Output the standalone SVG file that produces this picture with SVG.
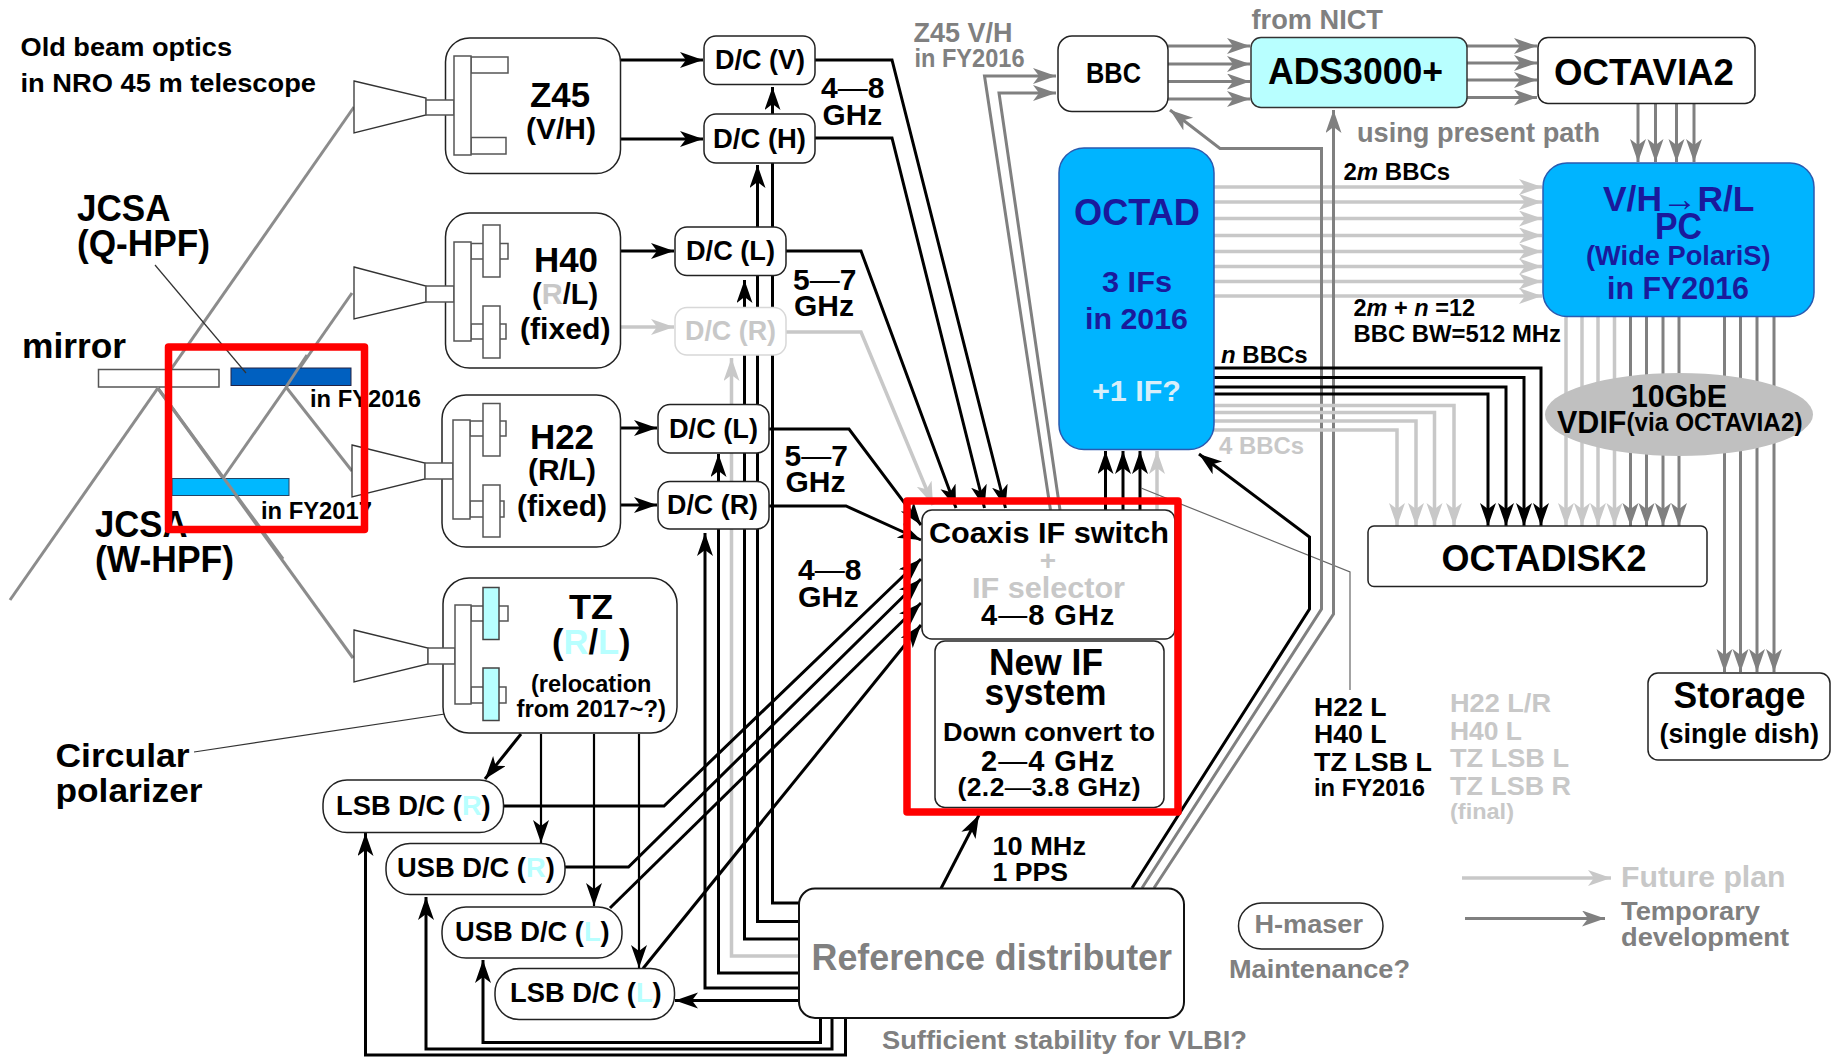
<svg xmlns="http://www.w3.org/2000/svg" width="1831" height="1057" viewBox="0 0 1831 1057">
<style>
text{font-family:"Liberation Sans",Arial,sans-serif;font-weight:700;fill:#000}
.c{text-anchor:middle}
.gy{fill:#808080}
.lt{fill:#c8c8c8}
.nv{fill:#1a1a9c}
.n{font-weight:400}
.i{font-style:italic}
.cy{fill:#b8ffff}
.box{fill:#fff;stroke:#222;stroke-width:1.5}
.part{fill:#fff;stroke:#555;stroke-width:1.5}
.cp{fill:#b8ffff;stroke:#444;stroke-width:1.5}
path{fill:none}
.k{stroke:#000;stroke-width:3;marker-end:url(#ak)}
.k0{stroke:#000;stroke-width:3}
.t{stroke:#000;stroke-width:2.2;marker-end:url(#ak)}
.g{stroke:#808080;stroke-width:3;marker-end:url(#ag)}
.g0{stroke:#808080;stroke-width:3}
.y{stroke:#c8c8c8;stroke-width:3.5;marker-end:url(#ay)}
.thin{stroke:#333;stroke-width:1.2}
.beam{stroke:#8c8c8c;stroke-width:3}
.red{fill:none;stroke:#f00;stroke-width:7.5;stroke-linejoin:round}
</style>
<defs>
<marker id="ak" markerUnits="userSpaceOnUse" markerWidth="25" markerHeight="18" refX="23" refY="8" orient="auto"><path d="M0,0L23,8L0,16L6,8z" style="fill:#000;stroke:none"/></marker>
<marker id="ag" markerUnits="userSpaceOnUse" markerWidth="25" markerHeight="18" refX="23" refY="8" orient="auto"><path d="M0,0L23,8L0,16L6,8z" style="fill:#808080;stroke:none"/></marker>
<marker id="ay" markerUnits="userSpaceOnUse" markerWidth="25" markerHeight="18" refX="23" refY="8" orient="auto"><path d="M0,0L23,8L0,16L6,8z" style="fill:#c8c8c8;stroke:none"/></marker>
</defs>
<rect width="1831" height="1057" fill="#fff"/>

<g id="beam-optics">
<path class="beam" d="M10,600L354,107"/>
<path class="beam" d="M157,387L353,658"/>
<path class="beam" d="M352,293L223,478"/>
<path class="beam" d="M286,387L352,471"/>
<rect id="mirror" x="98.500" y="369.500" width="120.500" height="17.500" class="part"/>
<rect id="jcsa-q" x="231" y="368" width="120" height="17.500" fill="#0060c0" stroke="#224"/>
<rect id="jcsa-w" x="172" y="478.500" width="117" height="17" fill="#00b8ff" stroke="#246"/>
<path class="beam" d="M157,387L283,559"/>
<path class="beam" d="M307,355L286,387"/>
<path class="thin" d="M155,265L246,373"/>
<path class="thin" d="M194,752L491,707"/>
</g>

<g id="connectors">
<!-- receivers to D/C -->
<path class="k" d="M621,60H703"/>
<path class="k" d="M621,139H703"/>
<path class="k" d="M621,251H674"/>
<path class="y" d="M621,327H674"/>
<path class="k" d="M621,428H657"/>
<path class="k" d="M621,505H657"/>
<!-- D/C outputs -->
<path class="k" d="M815,60H892L1005.500,508"/>
<path class="k" d="M815,138H892L984.500,508"/>
<path class="k" d="M786,251H861L956,508"/>
<path class="y" d="M786,332H861L933,505"/>
<path class="k" d="M769,429H849L921,525"/>
<path class="k" d="M769,506H846L921,540"/>
<!-- reference distribution -->
<path class="k" d="M799,903H772.500V87"/>
<path class="k" d="M799,921.500H757.500V165"/>
<path class="k" d="M799,939H744.500V280"/>
<path class="y" d="M799,956H731.500V358"/>
<path class="k" d="M799,973H718.500V454"/>
<path class="k" d="M799,988H705V533"/>
<path class="k" d="M799,1000.500H675"/>
<path class="k" d="M845.500,1018V1055H365.500V833"/>
<path class="k" d="M832,1018V1049H426V897"/>
<path class="k" d="M820.500,1018V1042.500H483V960"/>
<!-- TZ -->
<path class="k" d="M521,734L485,779"/>
<path class="t" d="M541,734V843"/>
<path class="t" d="M594,734V906"/>
<path class="t" d="M639,734V968"/>
<!-- TZ D/C outputs -->
<path class="k" d="M503.500,806H664L921,559"/>
<path class="k" d="M565,867H628.500L921,579"/>
<path class="k" d="M610,908L921,603"/>
<path class="k" d="M643,968.500L921,625"/>
<!-- Z45 paths to BBC -->
<path class="g" d="M1050.500,510L984.500,76H1056"/>
<path class="g" d="M1060,510L999,93H1056"/>
<!-- switch to OCTAD -->
<path class="k" d="M1105.500,510V451"/>
<path class="k" d="M1123,510V451"/>
<path class="k" d="M1140,510V451"/>
<path class="y" d="M1157,510V451"/>
<path class="thin" d="M1141,488L1350,572V690" style="stroke:#666"/>
<!-- BBC to ADS to OCTAVIA -->
<path class="g" d="M1168,46H1250"/>
<path class="g" d="M1168,64H1250"/>
<path class="g" d="M1168,81.500H1250"/>
<path class="g" d="M1168,99H1250"/>
<path class="g" d="M1467,46H1537"/>
<path class="g" d="M1467,63H1537"/>
<path class="g" d="M1467,80H1537"/>
<path class="g" d="M1467,97.500H1537"/>
<path class="g" d="M1638,104V162"/>
<path class="g" d="M1655.500,104V162"/>
<path class="g" d="M1676.500,104V162"/>
<path class="g" d="M1694,104V162"/>
<!-- OCTAD to PC -->
<path class="y" d="M1214,187H1542"/>
<path class="y" d="M1214,202H1542"/>
<path class="y" d="M1214,218.500H1542"/>
<path class="y" d="M1214,235.500H1542"/>
<path class="y" d="M1214,251.500H1542"/>
<path class="y" d="M1214,266.500H1542"/>
<path class="y" d="M1214,281.500H1542"/>
<path class="y" d="M1214,296H1542"/>
<!-- reference uplinks -->
<path class="g" d="M1142,888L1321.500,609V148.500H1220L1170,110"/>
<path class="g" d="M1154,888L1333.500,614V110"/>
<path class="k" d="M1132,888L1309.500,609V537L1199,454"/>
<path class="k" d="M941,888.500L979,815"/>
<!-- OCTAD to OCTADISK -->
<path class="y" d="M1214,405.500H1454V526"/>
<path class="y" d="M1214,412.500H1434.500V526"/>
<path class="y" d="M1214,421H1416V526"/>
<path class="y" d="M1214,430H1397V526"/>
<path class="k" d="M1214,368H1541V526"/>
<path class="k" d="M1214,377.500H1524V526"/>
<path class="k" d="M1214,387H1506V526"/>
<path class="k" d="M1214,394H1488V526"/>
<!-- PC to OCTADISK / Storage -->
<path class="y" d="M1566,316V526"/>
<path class="y" d="M1582,316V526"/>
<path class="y" d="M1598,316V526"/>
<path class="y" d="M1614.500,316V526"/>
<path class="g" d="M1630.500,316V526"/>
<path class="g" d="M1646.500,316V526"/>
<path class="g" d="M1663,316V526"/>
<path class="g" d="M1679,316V526"/>
<path class="g" d="M1724.500,316V672"/>
<path class="g" d="M1740.500,316V672"/>
<path class="g" d="M1757,316V672"/>
<path class="g" d="M1774,316V672"/>
<!-- legend -->
<path class="y" d="M1462,878H1611"/>
<path class="g" d="M1465,918.500H1605"/>
</g>

<g id="Z45">
<rect class="box" x="445.500" y="38" width="175" height="135.500" rx="24"/>
<path d="M354,81L426,98V115L354,133Z" style="fill:#fff;stroke:#333;stroke-width:1.3"/>
<rect class="part" x="426" y="100" width="28" height="15"/>
<rect class="part" x="471" y="57" width="37" height="16"/>
<rect class="part" x="471" y="137.500" width="35" height="16.500"/>
<rect class="part" x="454" y="56" width="17" height="99"/>
<text x="530" y="107" font-size="35" textLength="60" lengthAdjust="spacingAndGlyphs">Z45</text>
<text x="526" y="139" font-size="29" textLength="70" lengthAdjust="spacingAndGlyphs">(V/H)</text>
</g>

<g id="H40">
<rect class="box" x="445.500" y="213" width="175" height="155" rx="24"/>
<path d="M354,267L426,286V302L354,319Z" style="fill:#fff;stroke:#333;stroke-width:1.3"/>
<rect class="part" x="426" y="286" width="28" height="16"/>
<rect class="part" x="471" y="243.500" width="37" height="15.500"/>
<rect class="part" x="471" y="324" width="35" height="15"/>
<rect class="part" x="454" y="242" width="17" height="99"/>
<rect class="part" x="483" y="225" width="17" height="52"/>
<rect class="part" x="483" y="306" width="17" height="52"/>
<text x="534" y="272" font-size="35" textLength="64" lengthAdjust="spacingAndGlyphs">H40</text>
<text x="532" y="303.500" font-size="29">(<tspan class="lt">R</tspan>/L)</text>
<text x="520" y="338.500" font-size="29" textLength="90.500" lengthAdjust="spacingAndGlyphs">(fixed)</text>
</g>

<g id="H22">
<rect class="box" x="442" y="395" width="178.500" height="152" rx="24"/>
<path d="M352,445L425,463V479L352,497Z" style="fill:#fff;stroke:#333;stroke-width:1.3"/>
<rect class="part" x="425" y="463" width="28" height="16"/>
<rect class="part" x="470" y="421" width="36" height="15"/>
<rect class="part" x="470" y="501" width="34" height="16"/>
<rect class="part" x="453" y="420" width="17" height="99"/>
<rect class="part" x="483" y="403.500" width="17" height="52.500"/>
<rect class="part" x="483" y="485" width="17" height="52"/>
<text x="530" y="449" font-size="35" textLength="64" lengthAdjust="spacingAndGlyphs">H22</text>
<text x="528" y="480" font-size="29" textLength="68" lengthAdjust="spacingAndGlyphs">(R/L)</text>
<text x="517" y="516" font-size="29" textLength="90" lengthAdjust="spacingAndGlyphs">(fixed)</text>
</g>

<g id="TZ">
<rect class="box" x="443" y="578" width="234" height="155" rx="26"/>
<path d="M354,630L428,648V664L354,682Z" style="fill:#fff;stroke:#333;stroke-width:1.3"/>
<rect class="part" x="428" y="648" width="27" height="16"/>
<rect class="part" x="471" y="606" width="37" height="15"/>
<rect class="part" x="471" y="687" width="35" height="16"/>
<rect class="part" x="455" y="605" width="16" height="99"/>
<rect class="cp" x="483" y="587.500" width="16" height="52"/>
<rect class="cp" x="483" y="668" width="16" height="52.500"/>
<text x="569" y="619" font-size="35" textLength="44" lengthAdjust="spacingAndGlyphs">TZ</text>
<text x="552" y="654" font-size="34.500">(<tspan class="cy">R</tspan>/<tspan class="cy">L</tspan>)</text>
<text x="531" y="692" font-size="23" textLength="120.500" lengthAdjust="spacingAndGlyphs">(relocation</text>
<text x="516.500" y="717" font-size="23" textLength="149.500" lengthAdjust="spacingAndGlyphs">from 2017~?)</text>
</g>

<g id="dc-v"><rect class="box" x="704" y="36" width="111" height="48.500" rx="12"/><text x="715" y="69" font-size="27" textLength="90" lengthAdjust="spacingAndGlyphs">D/C (V)</text></g>
<g id="dc-h"><rect class="box" x="704" y="114" width="111" height="49" rx="12"/><text x="713" y="148" font-size="27" textLength="93" lengthAdjust="spacingAndGlyphs">D/C (H)</text></g>
<g id="dc-l-h40"><rect class="box" x="675" y="227" width="111" height="48.500" rx="12"/><text x="686" y="260" font-size="27" textLength="89" lengthAdjust="spacingAndGlyphs">D/C (L)</text></g>
<g id="dc-r-h40"><rect x="675" y="307.500" width="111" height="47.500" rx="12" style="fill:#fff;stroke:#d8d8d8;stroke-width:1.5"/><text class="lt" x="685" y="340" font-size="27" textLength="91" lengthAdjust="spacingAndGlyphs">D/C (R)</text></g>
<g id="dc-l-h22"><rect class="box" x="658" y="404.500" width="111" height="48.500" rx="12"/><text x="669" y="438" font-size="27" textLength="89" lengthAdjust="spacingAndGlyphs">D/C (L)</text></g>
<g id="dc-r-h22"><rect class="box" x="658" y="481.500" width="111" height="47.500" rx="12"/><text x="667" y="514" font-size="27" textLength="91" lengthAdjust="spacingAndGlyphs">D/C (R)</text></g>

<g id="lsb-r"><rect class="box" x="323" y="780" width="180.500" height="52.500" rx="24"/><text x="336" y="815" font-size="27.300">LSB D/C (<tspan class="cy">R</tspan>)</text></g>
<g id="usb-r"><rect class="box" x="386" y="843.500" width="179" height="51" rx="24"/><text x="397" y="877" font-size="27.300">USB D/C (<tspan class="cy">R</tspan>)</text></g>
<g id="usb-l"><rect class="box" x="442" y="907" width="180" height="51" rx="24"/><text x="455" y="940.500" font-size="27.300">USB D/C (<tspan class="cy">L</tspan>)</text></g>
<g id="lsb-l"><rect class="box" x="495" y="968.500" width="179.500" height="51" rx="24"/><text x="510" y="1002" font-size="27.300">LSB D/C (<tspan class="cy">L</tspan>)</text></g>

<g id="coaxis">
<rect class="box" x="922" y="510" width="253" height="129" rx="10"/>
<text x="929" y="542.500" font-size="29" textLength="240" lengthAdjust="spacingAndGlyphs">Coaxis IF switch</text>
<text class="c lt" x="1048" y="570" font-size="28">+</text>
<text class="lt" x="972" y="598" font-size="29" textLength="153" lengthAdjust="spacingAndGlyphs">IF selector</text>
<text x="981" y="625" font-size="29" letter-spacing="1">4<tspan class="n">—</tspan>8 GHz</text>
</g>
<g id="new-if">
<rect class="box" x="935" y="641" width="229" height="166.500" rx="10"/>
<text x="989" y="675" font-size="36" textLength="114" lengthAdjust="spacingAndGlyphs">New IF</text>
<text x="984.500" y="705" font-size="36" textLength="122" lengthAdjust="spacingAndGlyphs">system</text>
<text x="943" y="740.500" font-size="26.500" textLength="212" lengthAdjust="spacingAndGlyphs">Down convert to</text>
<text x="981" y="770.500" font-size="29" letter-spacing="1">2<tspan class="n">—</tspan>4 GHz</text>
<text x="957.500" y="795.500" font-size="26.500" letter-spacing=".4">(2.2<tspan class="n">—</tspan>3.8 GHz)</text>
</g>
<g id="reference">
<rect x="799" y="888.500" width="385" height="129.500" rx="16" style="fill:#fff;stroke:#111;stroke-width:2"/>
<text class="gy" x="811.500" y="970" font-size="36" textLength="360.500" lengthAdjust="spacingAndGlyphs">Reference distributer</text>
</g>
<g id="bbc"><rect class="box" x="1058" y="36" width="110" height="75.500" rx="14"/><text x="1086" y="83" font-size="29" textLength="55" lengthAdjust="spacingAndGlyphs">BBC</text></g>
<g id="ads"><rect x="1251" y="37.500" width="216" height="70" rx="10" style="fill:#b8ffff;stroke:#333;stroke-width:1.5"/><text x="1268" y="84" font-size="36" textLength="175" lengthAdjust="spacingAndGlyphs">ADS3000+</text></g>
<g id="octavia"><rect class="box" x="1538" y="37.500" width="217" height="66" rx="10"/><text x="1554" y="85" font-size="36" textLength="180" lengthAdjust="spacingAndGlyphs">OCTAVIA2</text></g>
<g id="octad">
<rect x="1059" y="148" width="155" height="301.500" rx="25" style="fill:#00b4ff;stroke:#2a5ab0;stroke-width:1.5"/>
<text class="nv" x="1074" y="225" font-size="36" textLength="126" lengthAdjust="spacingAndGlyphs">OCTAD</text>
<text class="nv" x="1102" y="292" font-size="30" textLength="70" lengthAdjust="spacingAndGlyphs">3 IFs</text>
<text class="nv" x="1085" y="328.500" font-size="30" textLength="103" lengthAdjust="spacingAndGlyphs">in 2016</text>
<text x="1092" y="400.500" font-size="29" textLength="89" lengthAdjust="spacingAndGlyphs" style="fill:#d8eefa">+1 IF?</text>
</g>
<g id="pc">
<rect x="1543" y="163" width="271" height="153.500" rx="24" style="fill:#00b4ff;stroke:#2a5ab0;stroke-width:1.5"/>
<text class="nv" x="1603" y="210.500" font-size="35.400">V/H<tspan class="n">→</tspan>R/L</text>
<text class="nv" x="1655" y="239" font-size="36" textLength="47" lengthAdjust="spacingAndGlyphs">PC</text>
<text class="nv" x="1586" y="265" font-size="27" textLength="184.500" lengthAdjust="spacingAndGlyphs">(Wide PolariS)</text>
<text class="nv" x="1607" y="298.500" font-size="32" textLength="142" lengthAdjust="spacingAndGlyphs">in FY2016</text>
</g>
<g id="vdif">
<ellipse cx="1679" cy="414.500" rx="134" ry="41.500" fill="#c0c0c0"/>
<text x="1631" y="406.500" font-size="32" textLength="96" lengthAdjust="spacingAndGlyphs">10GbE</text>
<text x="1557" y="432.500" font-size="32" textLength="69.500" lengthAdjust="spacingAndGlyphs">VDIF</text>
<text x="1626.500" y="430.500" font-size="25" textLength="176" lengthAdjust="spacingAndGlyphs">(via OCTAVIA2)</text>
</g>
<g id="octadisk"><rect class="box" x="1368" y="526" width="339" height="60.500" rx="6"/><text x="1441.500" y="571" font-size="36" textLength="205" lengthAdjust="spacingAndGlyphs">OCTADISK2</text></g>
<g id="storage"><rect class="box" x="1648" y="673" width="182" height="87" rx="10"/><text x="1673.500" y="708" font-size="36" textLength="132" lengthAdjust="spacingAndGlyphs">Storage</text><text x="1659.500" y="743" font-size="27" textLength="159.500" lengthAdjust="spacingAndGlyphs">(single dish)</text></g>
<g id="h-maser"><rect class="box" x="1238.500" y="903" width="144.500" height="46" rx="23"/><text class="gy" x="1254.500" y="932.500" font-size="26" textLength="108.500" lengthAdjust="spacingAndGlyphs">H-maser</text></g>

<g id="labels">
<text x="20.500" y="55.500" font-size="26" textLength="211.500" lengthAdjust="spacingAndGlyphs">Old beam optics</text>
<text x="20.500" y="92" font-size="26" textLength="295.500" lengthAdjust="spacingAndGlyphs">in NRO 45 m telescope</text>
<text x="77" y="220.500" font-size="36" textLength="93.500" lengthAdjust="spacingAndGlyphs">JCSA</text>
<text x="77" y="256" font-size="36" textLength="133" lengthAdjust="spacingAndGlyphs">(Q-HPF)</text>
<text x="22" y="358" font-size="35" textLength="104" lengthAdjust="spacingAndGlyphs">mirror</text>
<text x="310" y="407" font-size="24" textLength="111" lengthAdjust="spacingAndGlyphs">in FY2016</text>
<text x="261" y="519" font-size="24" textLength="111" lengthAdjust="spacingAndGlyphs">in FY2017</text>
<text x="95" y="537" font-size="36" textLength="92.500" lengthAdjust="spacingAndGlyphs">JCSA</text>
<text x="95" y="572" font-size="36" textLength="139" lengthAdjust="spacingAndGlyphs">(W-HPF)</text>
<text x="55.500" y="767" font-size="34" textLength="134" lengthAdjust="spacingAndGlyphs">Circular</text>
<text x="55.500" y="802" font-size="34" textLength="147" lengthAdjust="spacingAndGlyphs">polarizer</text>
<text x="821" y="98" font-size="30">4<tspan class="n">—</tspan>8</text>
<text x="822.500" y="125" font-size="30" textLength="59.500" lengthAdjust="spacingAndGlyphs">GHz</text>
<text x="793" y="289.500" font-size="30">5<tspan class="n">—</tspan>7</text>
<text x="794" y="316" font-size="30" textLength="60" lengthAdjust="spacingAndGlyphs">GHz</text>
<text x="784.500" y="465.500" font-size="30">5<tspan class="n">—</tspan>7</text>
<text x="785.500" y="492" font-size="30" textLength="60" lengthAdjust="spacingAndGlyphs">GHz</text>
<text x="798" y="580" font-size="30">4<tspan class="n">—</tspan>8</text>
<text x="798" y="607" font-size="30" textLength="60.500" lengthAdjust="spacingAndGlyphs">GHz</text>
<text class="gy" x="913.500" y="42" font-size="27" textLength="99" lengthAdjust="spacingAndGlyphs">Z45 V/H</text>
<text class="gy" x="914.500" y="66.500" font-size="25" textLength="110" lengthAdjust="spacingAndGlyphs">in FY2016</text>
<text class="gy" x="1251.500" y="29" font-size="27" textLength="131.500" lengthAdjust="spacingAndGlyphs">from NICT</text>
<text class="gy" x="1357" y="141.500" font-size="27" textLength="243" lengthAdjust="spacingAndGlyphs">using present path</text>
<text x="1343.500" y="180" font-size="24">2<tspan class="i">m</tspan> BBCs</text>
<text x="1353.500" y="315.500" font-size="23.500">2<tspan class="i">m</tspan> + <tspan class="i">n</tspan> =12</text>
<text x="1353.500" y="341.500" font-size="24" textLength="207.500" lengthAdjust="spacingAndGlyphs">BBC BW=512 MHz</text>
<text x="1221" y="363" font-size="24"><tspan class="i">n</tspan> BBCs</text>
<text class="lt" x="1219" y="453.500" font-size="24" textLength="85" lengthAdjust="spacingAndGlyphs">4 BBCs</text>
<text x="992.500" y="854.500" font-size="26" textLength="93.500" lengthAdjust="spacingAndGlyphs">10 MHz</text>
<text x="992.500" y="881" font-size="26" textLength="75.500" lengthAdjust="spacingAndGlyphs">1 PPS</text>
<text class="gy" x="1229" y="977.500" font-size="26" textLength="181" lengthAdjust="spacingAndGlyphs">Maintenance?</text>
<text class="gy" x="882" y="1048.500" font-size="26" textLength="365" lengthAdjust="spacingAndGlyphs">Sufficient stability for VLBI?</text>
<text x="1314" y="715.500" font-size="26" textLength="72.500" lengthAdjust="spacingAndGlyphs">H22 L</text>
<text x="1314" y="743" font-size="26" textLength="72.500" lengthAdjust="spacingAndGlyphs">H40 L</text>
<text x="1314" y="770.500" font-size="26" textLength="118" lengthAdjust="spacingAndGlyphs">TZ LSB L</text>
<text x="1314" y="795.500" font-size="24" textLength="111" lengthAdjust="spacingAndGlyphs">in FY2016</text>
<text class="lt" x="1450" y="712" font-size="26" textLength="101" lengthAdjust="spacingAndGlyphs">H22 L/R</text>
<text class="lt" x="1450" y="739.500" font-size="26" textLength="72" lengthAdjust="spacingAndGlyphs">H40 L</text>
<text class="lt" x="1450" y="767" font-size="26" textLength="119" lengthAdjust="spacingAndGlyphs">TZ LSB L</text>
<text class="lt" x="1450" y="794.500" font-size="26" textLength="121" lengthAdjust="spacingAndGlyphs">TZ LSB R</text>
<text class="lt" x="1450" y="818.500" font-size="22" textLength="64" lengthAdjust="spacingAndGlyphs">(final)</text>
<text class="lt" x="1621" y="886.500" font-size="30" textLength="164.500" lengthAdjust="spacingAndGlyphs">Future plan</text>
<text class="gy" x="1621" y="920" font-size="26" textLength="139" lengthAdjust="spacingAndGlyphs">Temporary</text>
<text class="gy" x="1621" y="945.500" font-size="26" textLength="168" lengthAdjust="spacingAndGlyphs">development</text>
</g>
<g id="highlights">
<rect class="red" x="168.500" y="347" width="196" height="182.500"/>
<rect class="red" x="907" y="501" width="271" height="311"/>
</g>
</svg>
